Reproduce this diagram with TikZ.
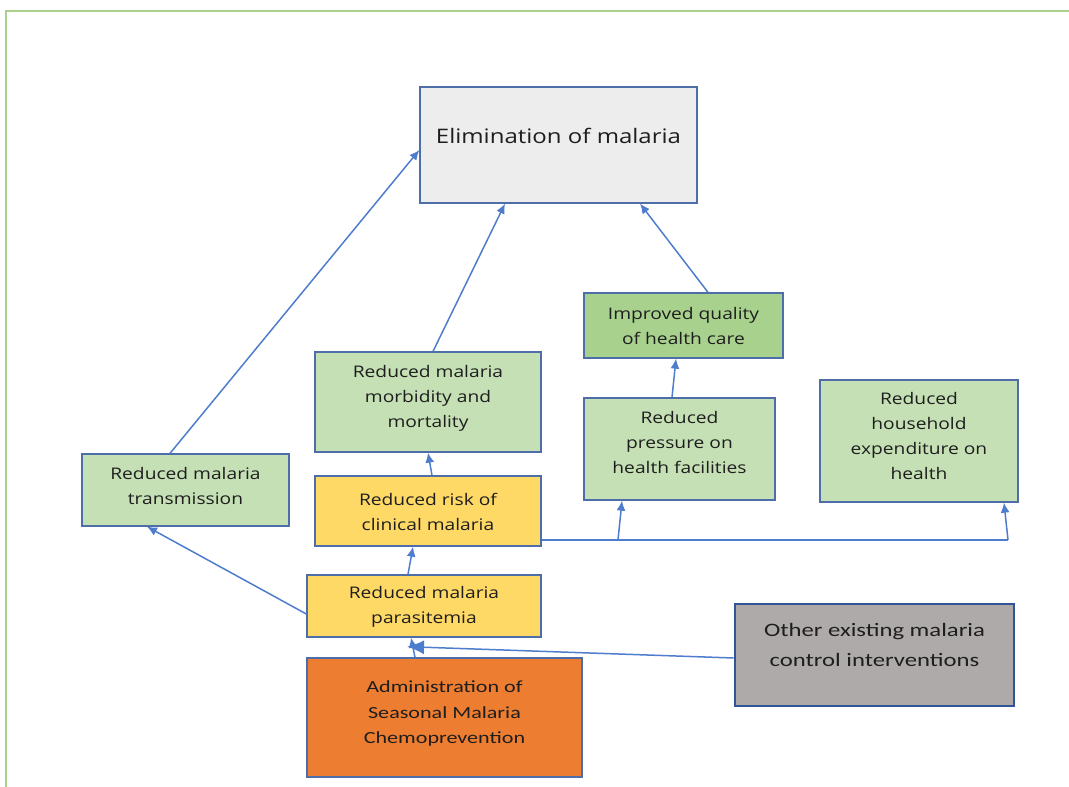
\documentclass[tikz,border=0pt]{standalone}
\usepackage{fontspec}
\setmainfont{Open Sans}
\newfontfamily\mainf[FakeStretch=1.2]{Open Sans}
\newfontfamily\calf[FakeStretch=1.3]{Carlito}
\usetikzlibrary{arrows.meta}
\definecolor{frameg}{RGB}{169,209,142}
\definecolor{bord}{RGB}{78,110,170}
\definecolor{darkbord}{RGB}{47,85,151}
\definecolor{arrc}{RGB}{79,125,205}
\definecolor{elimf}{RGB}{237,237,237}
\definecolor{lgreen}{RGB}{197,224,180}
\definecolor{mgreen}{RGB}{169,209,142}
\definecolor{yel}{RGB}{255,217,102}
\definecolor{oran}{RGB}{237,125,49}
\definecolor{gry}{RGB}{174,170,170}
\definecolor{txt}{RGB}{30,30,30}
\tikzset{
  box/.style={draw=bord, line width=1.3pt, inner sep=0pt},
  tx/.style={align=center, text=txt, inner sep=0pt,
    font=\mainf\fontsize{16pt}{25pt}\selectfont},
  conn/.style={draw=arrc, line width=1.5pt, -{Latex[length=10pt,width=9pt]}},
  plain/.style={draw=arrc, line width=1.5pt},
}
\begin{document}
\begin{tikzpicture}[x=1pt,y=-1pt]
\useasboundingbox (0,0) rectangle (1069,787);
% frame
\draw[frameg, line width=2.5pt] (6,787) -- (6,11) -- (1069,11);
% nodes
\node[box, fill=elimf, minimum width=277pt, minimum height=116pt,
  label={[tx, font=\mainf\fontsize{20pt}{26pt}\selectfont, yshift=9pt]center:Elimination of malaria}] (elim) at (558.5,145) {};
\node[box, fill=mgreen, minimum width=199pt, minimum height=65pt,
  label={[tx]center:Improved quality\\of health care}] (impr) at (683.5,325.5) {};
\node[box, fill=lgreen, minimum width=226pt, minimum height=100pt,
  label={[tx, yshift=4pt]center:Reduced malaria\\morbidity and\\mortality}] (morb) at (428,402) {};
\node[box, fill=lgreen, minimum width=191pt, minimum height=102pt,
  label={[tx, yshift=7pt]center:Reduced\\pressure on\\health facilities}] (press) at (679.5,449) {};
\node[box, fill=lgreen, minimum width=198pt, minimum height=122pt,
  label={[tx, yshift=5pt]center:Reduced\\household\\expenditure on\\health}] (house) at (919,441) {};
\node[box, fill=lgreen, minimum width=207pt, minimum height=72pt,
  label={[tx, yshift=4pt]center:Reduced malaria\\transmission}] (trans) at (185.5,490) {};
\node[box, fill=yel, minimum width=226pt, minimum height=70pt,
  label={[tx, yshift=-1pt]center:Reduced risk of\\clinical malaria}] (risk) at (428,511) {};
\node[box, fill=yel, minimum width=234pt, minimum height=62pt,
  label={[tx, yshift=-1pt]center:Reduced malaria\\parasitemia}] (para) at (424,606) {};
\node[box, fill=oran, minimum width=275pt, minimum height=119pt,
  label={[tx, font=\calf\fontsize{17pt}{25.5pt}\selectfont, yshift=4pt]center:Administration of\\Seasonal Malaria\\Chemoprevention}] (adm) at (444.5,717.5) {};
\node[box, draw=darkbord, line width=2.6pt, fill=gry, minimum width=279pt, minimum height=102pt,
  label={[tx, font=\calf\fontsize{19pt}{30pt}\selectfont, yshift=10pt]center:Other existing malaria\\control interventions}] (oth) at (874.5,655) {};
% connectors
\draw[conn] ([xshift=-15.5pt]trans.north) -- ([yshift=-5pt]elim.west);
\draw[conn] ([xshift=5pt]morb.north) -- ([xshift=-53.5pt]elim.south);
\draw[conn] ([xshift=24.5pt]impr.north) -- ([xshift=81.5pt]elim.south);
\draw[conn] ([xshift=-7.5pt]press.north) -- ([xshift=-7.5pt]impr.south);
\draw[conn] ([xshift=4pt]risk.north) -- (morb.south);
\draw[conn] ([xshift=-16pt]para.north) -- ([xshift=-15pt]risk.south);
\draw[conn] ([yshift=-8pt]para.west) -- ([xshift=-38.5pt]trans.south);
\draw[conn] ([xshift=-29.5pt]adm.north) -- ([xshift=-13pt]para.south);
\draw[draw=arrc, line width=1.5pt, -{Latex[length=17pt,width=14pt]}] ([yshift=-3pt]oth.west) -- ([xshift=-17pt,yshift=-9pt]para.south);
\coordinate (j1) at (618,540);
\coordinate (j2) at (1008,540);
\draw[plain] ([yshift=-29pt]risk.east) -- (j2);
\draw[conn] (j1) -- ([xshift=-57.5pt]press.south);
\draw[conn] (j2) -- ([xshift=85pt]house.south);
\end{tikzpicture}
\end{document}
